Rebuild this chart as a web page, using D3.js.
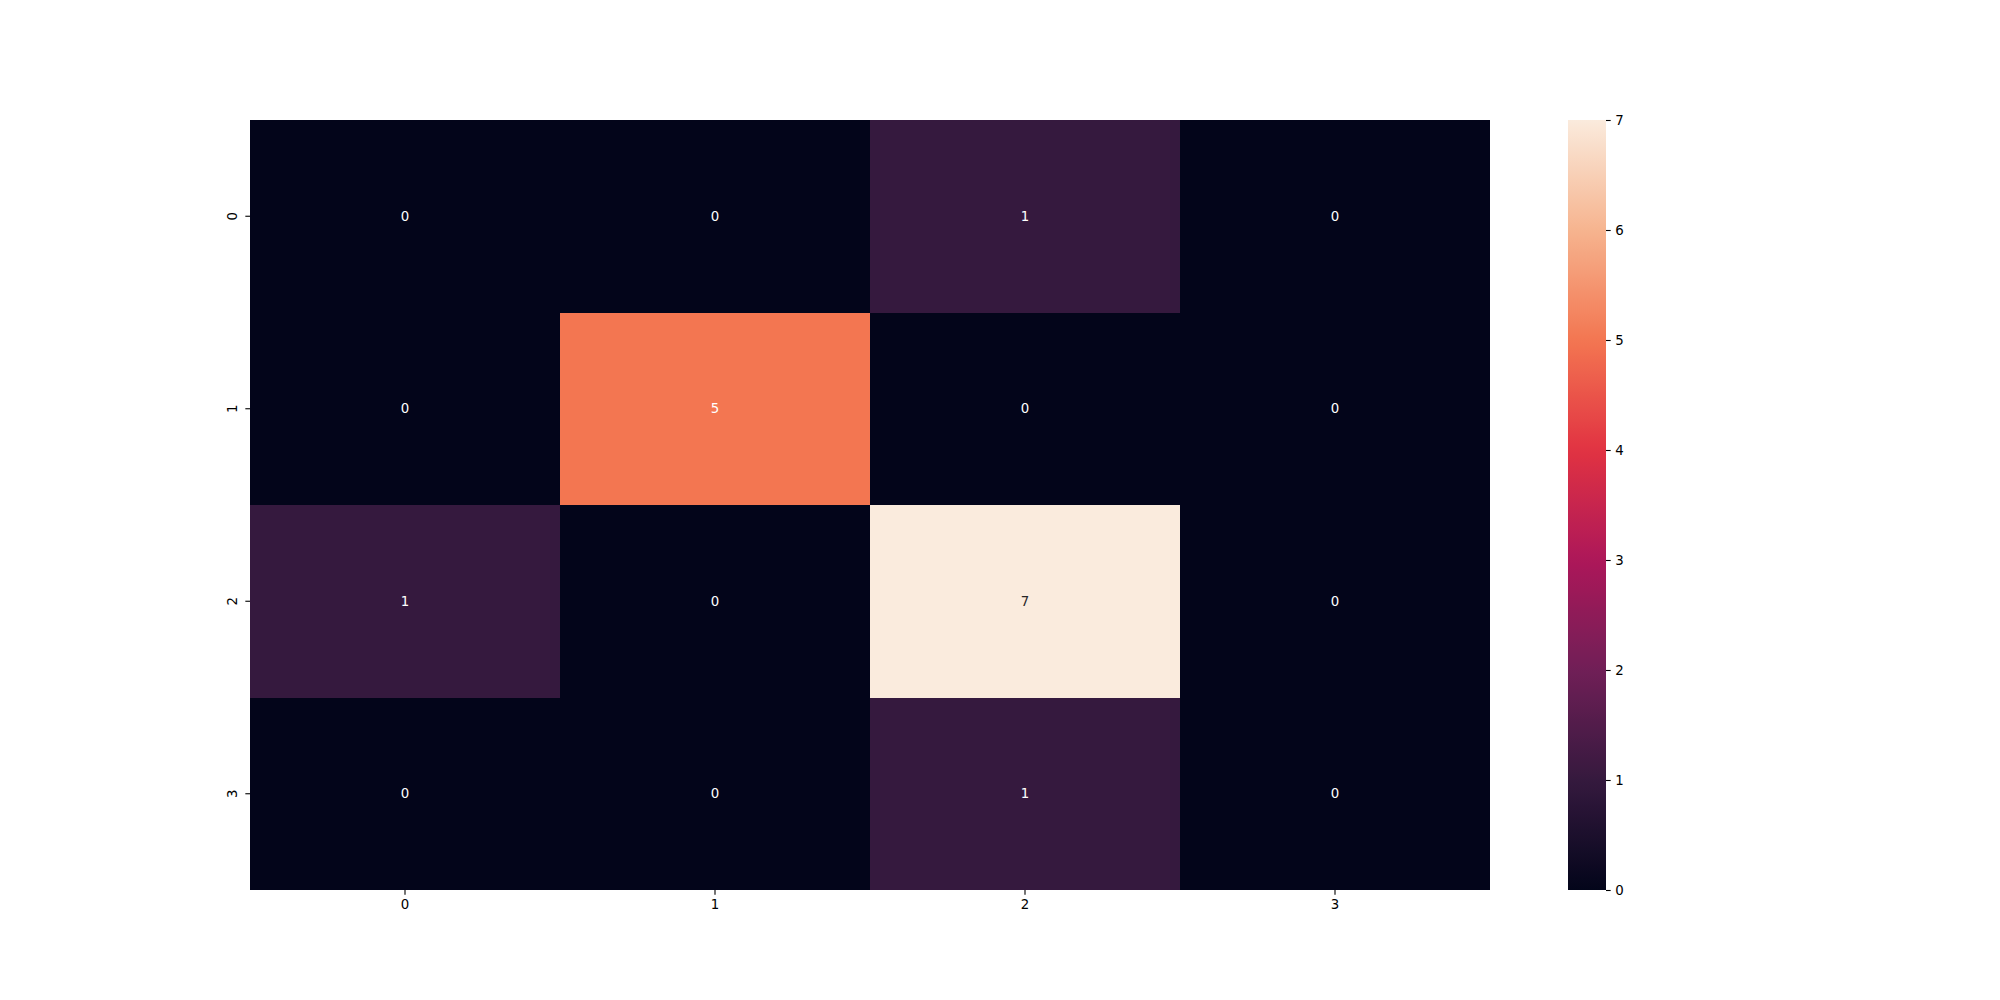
<!DOCTYPE html>
<html>
<head>
<meta charset="utf-8">
<script src="https://cdn.jsdelivr.net/npm/d3@7"></script>
<style>
  html, body { margin: 0; padding: 0; background: #fff; }
  svg text { font-family: "DejaVu Sans", sans-serif; }
</style>
</head>
<body>
<svg id="chart" width="2000" height="1000"></svg>
<script>
// Data
const rowLabels = ["0", "1", "2", "3"];
const colLabels = ["0", "1", "2", "3"];
const values = [
  [0, 0, 1, 0],
  [0, 5, 0, 0],
  [1, 0, 7, 0],
  [0, 0, 1, 0]
];
const colorbarTicks = [0, 1, 2, 3, 4, 5, 6, 7];
// rocket colormap samples at value 0..7 (vmax 7)
const rocketStops = ["#03051a", "#35193e", "#701f57", "#ad1759", "#e13342", "#f37651", "#f6b48f", "#faebdd"];

(function () {
const svg = d3.select("#chart");
const mLeft = 250, mRight = 1490, mTop = 120, mBottom = 890;
const vmin = 0, vmax = 7;

const x = d3.scaleBand().domain(colLabels).range([mLeft, mRight]).padding(0);
const y = d3.scaleBand().domain(rowLabels).range([mTop, mBottom]).padding(0);
const color = d3.scaleLinear()
  .domain(rocketStops.map((_, i) => vmin + (vmax - vmin) * i / (rocketStops.length - 1)))
  .range(rocketStops)
  .interpolate(d3.interpolateRgb)
  .clamp(true);

const cells = [];
values.forEach((row, i) => row.forEach((v, j) => cells.push({ r: rowLabels[i], c: colLabels[j], v })));

svg.append("g").selectAll("rect").data(cells).enter().append("rect")
  .attr("x", d => x(d.c))
  .attr("y", d => y(d.r))
  .attr("width", x.bandwidth())
  .attr("height", y.bandwidth())
  .attr("fill", d => color(d.v))
  .attr("shape-rendering", "crispEdges");

function luminance(c) {
  const rgb = d3.rgb(c);
  const f = v => { v /= 255; return v <= 0.03928 ? v / 12.92 : Math.pow((v + 0.055) / 1.055, 2.4); };
  return 0.2126 * f(rgb.r) + 0.7152 * f(rgb.g) + 0.0722 * f(rgb.b);
}

svg.append("g").selectAll("text").data(cells).enter().append("text")
  .attr("x", d => x(d.c) + x.bandwidth() / 2)
  .attr("y", d => y(d.r) + y.bandwidth() / 2)
  .attr("text-anchor", "middle")
  .attr("dominant-baseline", "central")
  .attr("font-size", "13.33px")
  .attr("fill", d => luminance(color(d.v)) > 0.408 ? "#262626" : "#ffffff")
  .text(d => d.v);

// X axis
const xAxis = svg.append("g")
  .attr("transform", `translate(0,${mBottom})`)
  .call(d3.axisBottom(x).tickSize(4.67).tickPadding(4.67));
xAxis.select(".domain").remove();
xAxis.selectAll("line").attr("stroke", "#000").attr("stroke-width", 1.1);
xAxis.selectAll("text").attr("font-size", "13.33px").attr("fill", "#000")
  .attr("font-family", "DejaVu Sans, sans-serif");

// Y axis
const yAxis = svg.append("g")
  .attr("transform", `translate(${mLeft},0)`)
  .call(d3.axisLeft(y).tickSize(4.67).tickPadding(4.67));
yAxis.select(".domain").remove();
yAxis.selectAll("line").attr("stroke", "#000").attr("stroke-width", 1.1);
yAxis.selectAll("text")
  .attr("font-size", "13.33px").attr("fill", "#000")
  .attr("font-family", "DejaVu Sans, sans-serif")
  .attr("x", null).attr("dy", "0.32em")
  .attr("text-anchor", "middle")
  .attr("transform", "translate(-17,0) rotate(-90)");

// Colorbar
const cbLeft = 1568, cbRight = 1606;
const cbScale = d3.scaleLinear().domain([vmin, vmax]).range([mBottom, mTop]);
const defs = svg.append("defs");
const grad = defs.append("linearGradient").attr("id", "cbgrad")
  .attr("x1", 0).attr("y1", 1).attr("x2", 0).attr("y2", 0);
const nStops = 64;
d3.range(nStops + 1).forEach(i => {
  const t = i / nStops;
  grad.append("stop").attr("offset", t).attr("stop-color", color(vmin + t * (vmax - vmin)));
});
svg.append("rect")
  .attr("x", cbLeft).attr("y", mTop)
  .attr("width", cbRight - cbLeft).attr("height", mBottom - mTop)
  .attr("fill", "url(#cbgrad)");

const cbAxis = svg.append("g")
  .attr("transform", `translate(${cbRight},0)`)
  .call(d3.axisRight(cbScale).tickValues(colorbarTicks).tickFormat(d3.format("d")).tickSize(4.67).tickPadding(4.67));
cbAxis.select(".domain").remove();
cbAxis.selectAll("line").attr("stroke", "#000").attr("stroke-width", 1.1);
cbAxis.selectAll("text").attr("font-size", "13.33px").attr("fill", "#000")
  .attr("font-family", "DejaVu Sans, sans-serif");
})();
</script>
</body>
</html>
